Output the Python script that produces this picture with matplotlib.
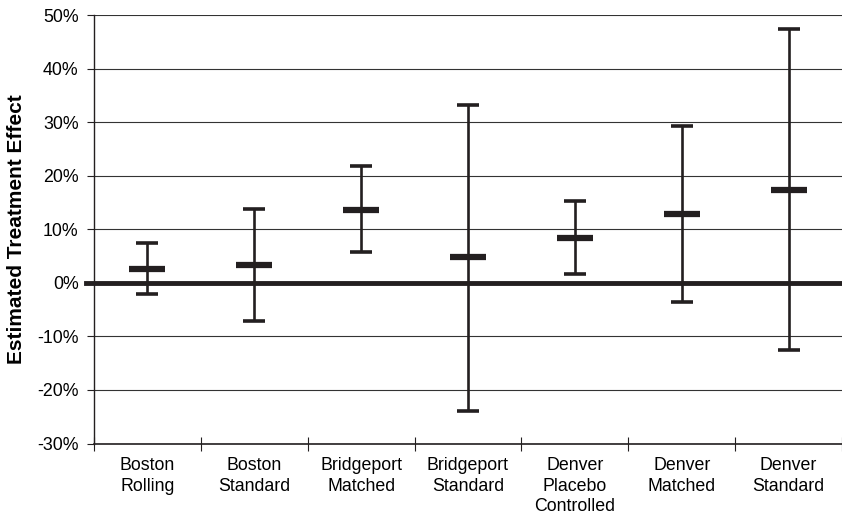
import matplotlib
matplotlib.use("Agg")
import matplotlib.pyplot as plt
import numpy as np
from matplotlib.ticker import FixedLocator, PercentFormatter

plt.rcParams['font.family'] = ['Liberation Sans', 'DejaVu Sans']
plt.rcParams['axes.unicode_minus'] = False

categories = ["Boston\nRolling", "Boston\nStandard", "Bridgeport\nMatched",
              "Bridgeport\nStandard", "Denver\nPlacebo\nControlled",
              "Denver\nMatched", "Denver\nStandard"]
estimates = [2.6, 3.4, 13.6, 4.8, 8.3, 12.9, 17.4]
upper = [7.4, 13.8, 21.8, 33.2, 15.3, 29.3, 47.4]
lower = [-2.0, -7.2, 5.8, -24.0, 1.6, -3.6, -12.5]
yticks = [-30, -20, -10, 0, 10, 20, 30, 40, 50]

ink = '#231f20'
fig = plt.figure(figsize=(8.42, 5.16), dpi=100)
ax = fig.add_axes([94/842, 1-443.5/516, 1-94/842, (443.5-15.3)/516])

x = np.arange(len(categories))
est = np.array(estimates)
yerr = np.vstack([est - np.array(lower), np.array(upper) - est])

ax.set_xlim(-0.5, len(categories) - 0.5)
ax.set_ylim(yticks[0], yticks[-1])

# gridlines
ax.yaxis.set_major_locator(FixedLocator(yticks))
ax.grid(axis='y', color='#333333', lw=0.8, zorder=1)
ax.set_axisbelow(True)

ax.axhline(0, xmin=-0.011, xmax=1, color=ink, lw=3.5, clip_on=False, zorder=2)

ax.errorbar(x, est, yerr=yerr, fmt='none', ecolor=ink, elinewidth=1.9,
            capsize=7.8, capthick=2.6, zorder=3)
ax.plot(x, est, ls='none', marker='_', ms=25.5, mew=4.5, color=ink, zorder=4)

for s in ['top', 'right']:
    ax.spines[s].set_visible(False)
ax.spines['left'].set_color(ink)
ax.spines['left'].set_linewidth(1.0)
ax.spines['bottom'].set_color(ink)
ax.spines['bottom'].set_linewidth(1.2)

ax.yaxis.set_major_formatter(PercentFormatter(decimals=0))
ax.tick_params(axis='y', length=5, width=0.8, color=ink, pad=6,
               labelsize=12.8, labelcolor='black')

ax.set_xticks(x)
ax.set_xticklabels(categories, fontsize=12.8, linespacing=1.27)
ax.set_xticks(np.arange(-0.5, len(categories) + 0.5, 1), minor=True)
ax.tick_params(axis='x', which='major', length=0, pad=10)
ax.tick_params(axis='x', which='minor', direction='inout', length=10,
               width=0.8, color=ink)

fig.text(16.7/842, 1 - 229/516, 'Estimated Treatment Effect', rotation=90,
         ha='center', va='center', fontsize=15, fontweight='bold')

fig.savefig('out.png', dpi=100)
